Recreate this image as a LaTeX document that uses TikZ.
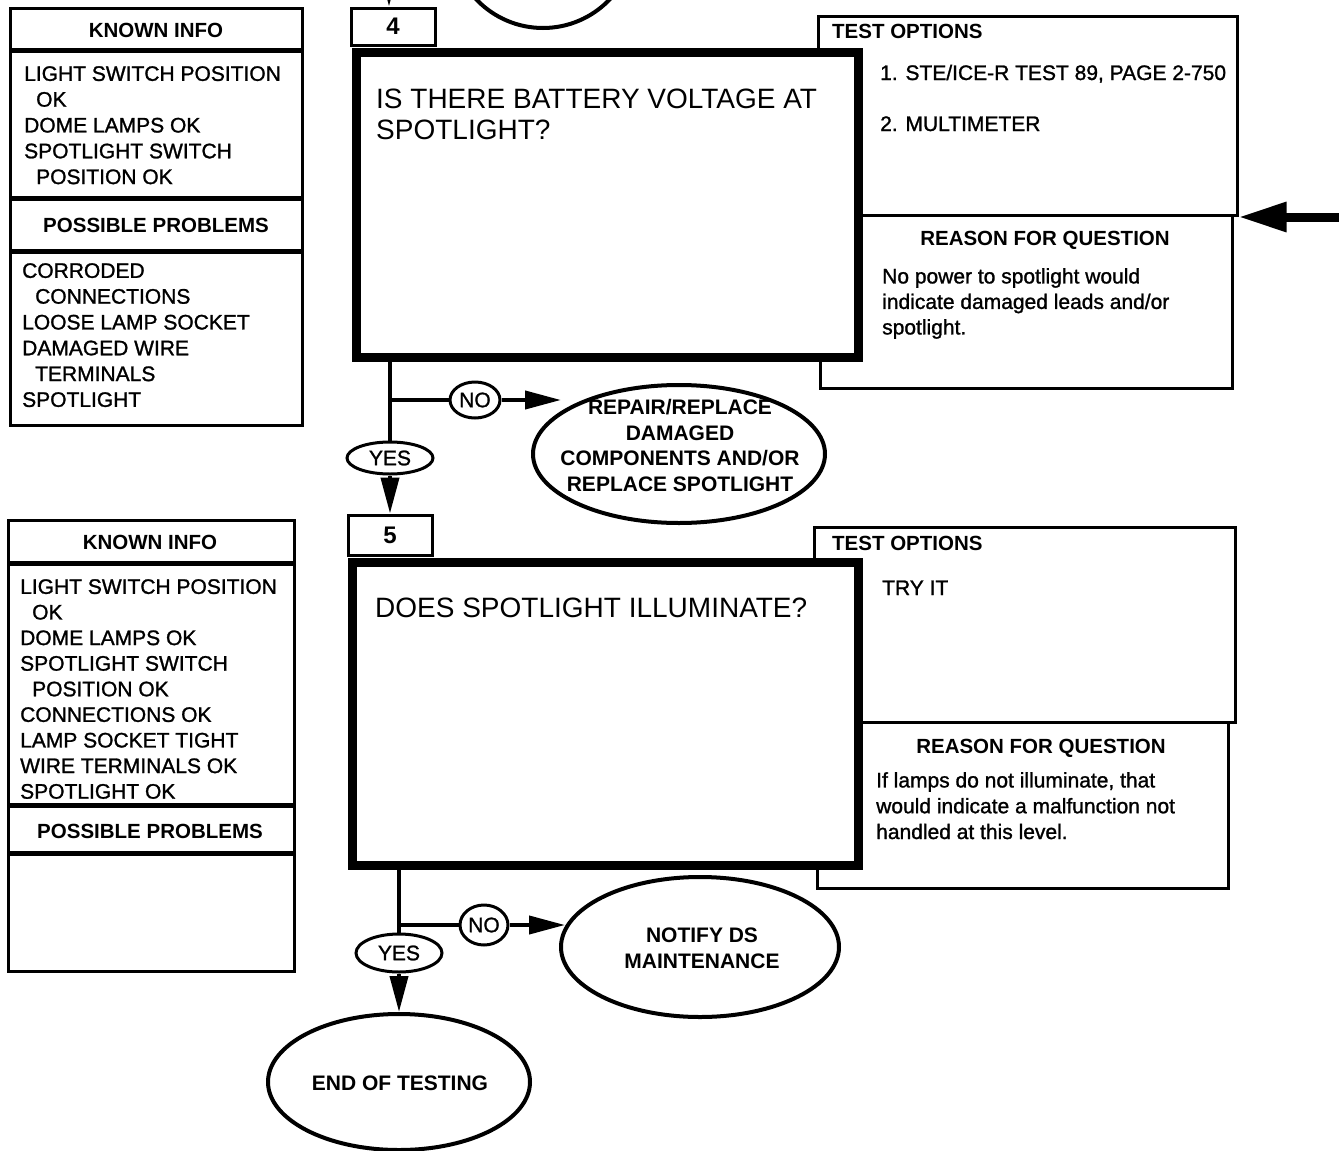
\documentclass[tikz,border=0pt]{standalone}
\usepackage{fontspec}
\setmainfont{Liberation Sans}
\newfontfamily\scanfont{Liberation Sans}[FakeBold=1.2]
\usetikzlibrary{arrows.meta,shapes.geometric}
\newcommand{\myfs}[2]{\fontsize{#1}{#2}\selectfont}
\tikzset{
  thinbox/.style={draw, line width=3pt, inner sep=0pt, fill=white},
  bigbox/.style={draw, line width=9pt, inner sep=0pt, fill=white},
  oval/.style={draw, ellipse, line width=4pt, inner sep=0pt, fill=white},
  tag/.style={draw, ellipse, line width=3pt, inner sep=0pt, fill=white, font=\scanfont\myfs{21}{24}},
  conn/.style={line width=4pt},
  arr/.style={line width=4pt, -{Triangle[length=36pt,width=18pt]}},
  divider/.style={line width=5pt},
  body/.style={inner sep=0pt, anchor=north west, align=left, font=\scanfont\myfs{21}{25.8}},
  line/.style={inner sep=0pt, anchor=base west, font=\scanfont\myfs{21}{25.8}},
  head/.style={inner sep=0pt, anchor=base, font=\bfseries\myfs{20.5}{24}},
  headw/.style={inner sep=0pt, anchor=base west, font=\bfseries\myfs{20.5}{24}},
  question/.style={inner sep=0pt, anchor=north west, align=left, font=\myfs{28}{31}},
  ovaltext/.style={inner sep=0pt, anchor=north, align=center, font=\bfseries\myfs{21}{25.7}},
}
\begin{document}
\begin{tikzpicture}[x=1pt,y=-1pt]
\useasboundingbox (0,0) rectangle (1339,1151);
\clip (0,0) rectangle (1339,1151);

% partial circle at the top (previous step)
\draw[line width=4pt] (543,-64) circle[radius=92pt];

% ---------- Known info 1 ----------
\node[thinbox, minimum width=292pt, minimum height=417pt] (ki1) at (156,216.5) {};
\draw[divider] (10,50) -- (302,50);
\draw[divider] (10,198) -- (302,198);
\draw[divider] (10,251) -- (302,251);
\node[head] (ki1h) at (156,37) {KNOWN INFO};
\node[body] (ki1b) at (24,66) {LIGHT SWITCH POSITION\\\hspace*{12pt}OK\\DOME LAMPS OK\\SPOTLIGHT SWITCH\\\hspace*{12pt}POSITION OK};
\node[head] (pp1h) at (156,232) {POSSIBLE PROBLEMS};
\node[body] (pp1b) at (22,263) {CORRODED\\\hspace*{13pt}CONNECTIONS\\LOOSE LAMP SOCKET\\DAMAGED WIRE\\\hspace*{13pt}TERMINALS\\SPOTLIGHT};

% ---------- Known info 2 ----------
\node[thinbox, minimum width=286pt, minimum height=451pt] (ki2) at (151,745.5) {};
\draw[divider] (8,563) -- (294,563);
\draw[divider] (8,805) -- (294,805);
\draw[divider] (8,853) -- (294,853);
\node[head] (ki2h) at (150,549) {KNOWN INFO};
\node[body, font=\scanfont\myfs{21}{25.6}] (ki2b) at (20,579) {LIGHT SWITCH POSITION\\\hspace*{12pt}OK\\DOME LAMPS OK\\SPOTLIGHT SWITCH\\\hspace*{12pt}POSITION OK\\CONNECTIONS OK\\LAMP SOCKET TIGHT\\WIRE TERMINALS OK\\SPOTLIGHT OK};
\node[head] (pp2h) at (150,838) {POSSIBLE PROBLEMS};

% ---------- Test options / reason 1 ----------
\node[thinbox, minimum width=419pt, minimum height=199pt] (to1) at (1027.5,115.5) {};
\node[thinbox, minimum width=412pt, minimum height=173pt] (r1) at (1026,301.5) {};
\node[headw] (to1h) at (832,38) {TEST OPTIONS};
\node[line] (to1a) at (880,80) {1. STE/ICE-R TEST 89, PAGE 2-750};
\node[line] (to1b) at (880,131) {2. MULTIMETER};
\node[head] (r1h) at (1045,245) {REASON FOR QUESTION};
\node[body, font=\scanfont\myfs{21}{25.5}] (r1b) at (882,268) {No power to spotlight would\\indicate damaged leads and/or\\spotlight.};

% ---------- Test options / reason 2 ----------
\node[thinbox, minimum width=421pt, minimum height=195pt] (to2) at (1024.5,624.5) {};
\node[thinbox, minimum width=411pt, minimum height=166pt] (r2) at (1022.5,805) {};
\node[headw] (to2h) at (832,550) {TEST OPTIONS};
\node[line] (to2a) at (882,595) {TRY IT};
\node[head] (r2h) at (1041,753) {REASON FOR QUESTION};
\node[body, font=\scanfont\myfs{21}{25.8}] (r2b) at (876,772) {If lamps do not illuminate, that\\would indicate a malfunction not\\handled at this level.};

% ---------- Question boxes ----------
\node[bigbox, minimum width=502pt, minimum height=305pt] (q4) at (607,204.5) {};
\node[thinbox, minimum width=84pt, minimum height=37pt, font=\bfseries\myfs{24}{26}] (n4) at (393,26.5) {4};
\node[question] (q4t) at (376,89) {IS THERE BATTERY VOLTAGE AT\\SPOTLIGHT?};

\node[bigbox, minimum width=506pt, minimum height=303pt] (q5) at (605,713.5) {};
\node[thinbox, minimum width=84pt, minimum height=40pt, font=\bfseries\myfs{24}{26}] (n5) at (390,535) {5};
\node[question] (q5t) at (375,598) {DOES SPOTLIGHT ILLUMINATE?};

% ---------- Outcome ovals ----------
\node[oval, minimum width=292pt, minimum height=138pt] (rep) at (679,454) {};
\node[ovaltext] (rept) at (680,399) {REPAIR/REPLACE\\DAMAGED\\COMPONENTS AND/OR\\REPLACE SPOTLIGHT};
\node[oval, minimum width=278pt, minimum height=140pt] (ntf) at (700,947) {};
\node[ovaltext] (ntft) at (702,928) {NOTIFY DS\\MAINTENANCE};
\node[oval, minimum width=262pt, minimum height=136pt] (endt) at (399,1082) {};
\node[inner sep=0pt, anchor=base, font=\bfseries\myfs{21}{24}] (endtt) at (400,1090) {END OF TESTING};

% ---------- YES / NO tags ----------
\node[tag, minimum width=86pt, minimum height=32pt] (yes1) at (390,458) {YES};
\node[tag, minimum width=50pt, minimum height=36pt] (no1) at (475,400) {NO};
\node[tag, minimum width=86pt, minimum height=38pt] (yes2) at (399,953) {YES};
\node[tag, minimum width=48pt, minimum height=40pt] (no2) at (484,925) {NO};

% ---------- Connectors ----------
\coordinate (topin) at (389,-40);
\draw[arr] (topin) -- (topin |- n4.north);

\draw[conn] (q4.south -| yes1.north) -- (yes1.north);
\coordinate (b1) at (390,400);
\draw[conn] (b1) -- (no1.west);
\coordinate (repin) at (561,400);
\draw[arr] (no1.east) -- (repin);
\draw[arr] (yes1.south) -- (yes1.south |- n5.north);

\draw[conn] (q5.south -| yes2.north) -- (yes2.north);
\coordinate (b2) at (399,925);
\draw[conn] (b2) -- (no2.west);
\coordinate (ntfin) at (565,925);
\draw[arr] (no2.east) -- (ntfin);
\draw[arr] (yes2.south) -- (endt.north);

\coordinate (rin) at (1345,217);
\draw[line width=9pt, -{Triangle[length=48pt,width=28pt]}] (rin) -- (to1.east |- rin);
\end{tikzpicture}
\end{document}
